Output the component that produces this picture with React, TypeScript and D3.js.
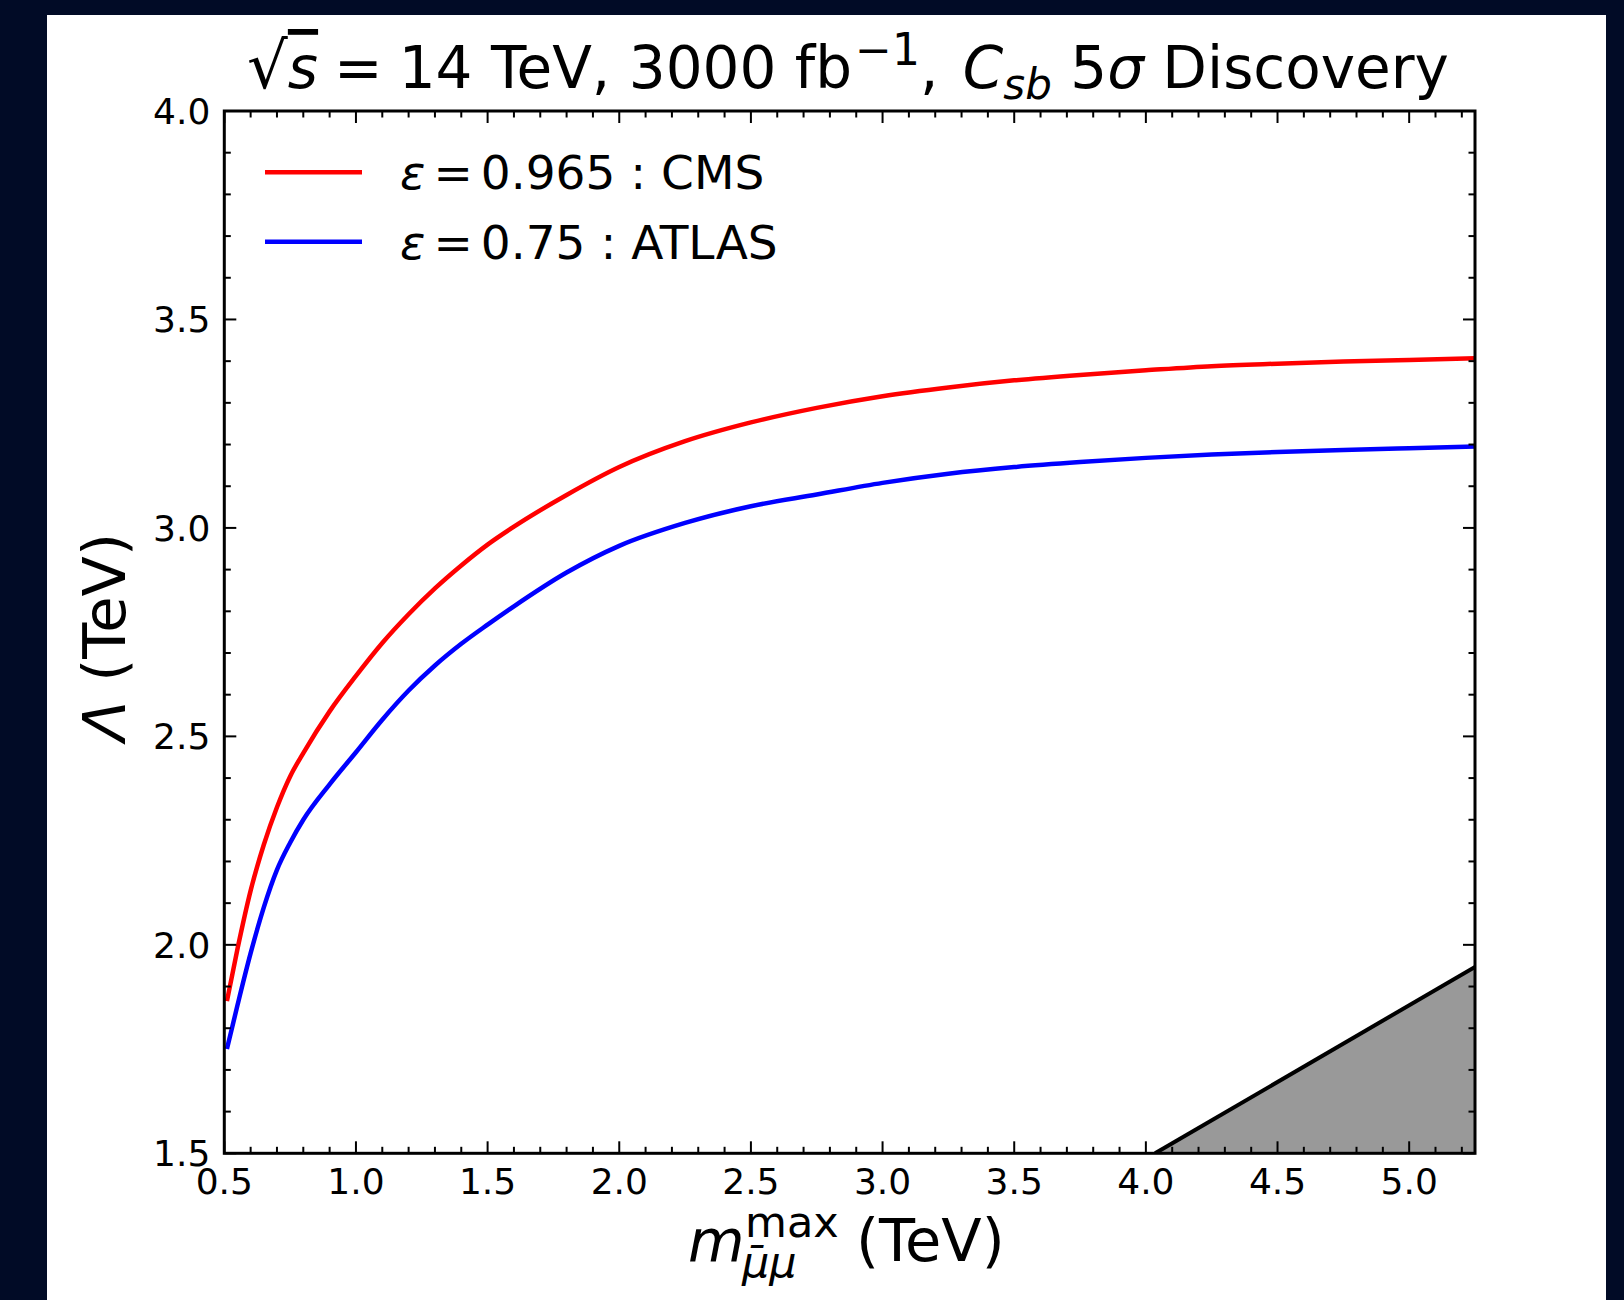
import React from "react";
import * as d3 from "d3";

// ---------- data ----------
const mGrid = [0.51, 0.55, 0.6, 0.65, 0.7, 0.75, 0.8, 0.9, 1.0, 1.1, 1.2, 1.3, 1.4, 1.5, 1.6, 1.8, 2.0, 2.25, 2.5, 2.75, 3.0, 3.25, 3.5, 3.75, 4.0, 4.25, 4.5, 4.75, 5.0, 5.25];
const lambdaCMS = [1.865, 1.99, 2.13, 2.24, 2.33, 2.404, 2.46, 2.56, 2.645, 2.724, 2.793, 2.855, 2.91, 2.96, 3.003, 3.079, 3.146, 3.208, 3.253, 3.288, 3.316, 3.337, 3.354, 3.367, 3.378, 3.388, 3.394, 3.399, 3.403, 3.407];
const lambdaATLAS = [1.75, 1.855, 1.98, 2.09, 2.18, 2.245, 2.3, 2.385, 2.462, 2.54, 2.61, 2.67, 2.722, 2.768, 2.812, 2.893, 2.957, 3.012, 3.052, 3.08, 3.108, 3.13, 3.146, 3.158, 3.168, 3.176, 3.182, 3.187, 3.191, 3.195];
const shadeX = [4.035, 5.25];
const shadeY = [1.5, 1.947];
const xMajorTicks = [0.5, 1.0, 1.5, 2.0, 2.5, 3.0, 3.5, 4.0, 4.5, 5.0];
const yMajorTicks = [1.5, 2.0, 2.5, 3.0, 3.5, 4.0];
const seriesLabels = ["0.965 : CMS", "0.75 : ATLAS"];
const seriesColors = ["#ff0000", "#0000ff"];

const FONT = "DejaVu Sans";

export default function App() {
  const W = 1624, H = 1300;
  const L = 224.3, R = 1475, T = 111, B = 1153.3;
  const x = d3.scaleLinear().domain([0.5, 5.25]).range([L, R]);
  const y = d3.scaleLinear().domain([1.5, 4.0]).range([B, T]);

  const xMinor = d3.range(0.5, 5.25 + 1e-9, 0.1).map((v) => +v.toFixed(2));
  const yMinor = d3.range(1.5, 4.0 + 1e-9, 0.1).map((v) => +v.toFixed(2));
  const isMajor = (v: number, arr: number[]) => arr.some((a) => Math.abs(a - v) < 1e-6);

  const smooth = d3
    .line<[number, number]>()
    .x((d) => x(d[0]))
    .y((d) => y(d[1]))
    .curve(d3.curveMonotoneX);
  const straight = d3
    .line<[number, number]>()
    .x((d) => x(d[0]))
    .y((d) => y(d[1]));

  const series = [lambdaCMS, lambdaATLAS].map((vals) =>
    smooth(mGrid.map((m, i) => [m, vals[i]] as [number, number]))
  );

  const shadePoly = [
    [shadeX[0], shadeY[0]],
    [shadeX[1], shadeY[1]],
    [shadeX[1], shadeY[0]],
  ] as [number, number][];
  const area = straight(shadePoly) + "Z";
  const edge = straight(shadeX.map((v, i) => [v, shadeY[i]] as [number, number]));

  const majLen = 12, minLen = 6.5;
  const tickFs = 36;

  return (
    <svg
      width={W}
      height={H}
      style={{ position: "absolute", left: 0, top: 0, display: "block" }}
      fontFamily={FONT}
    >
      <rect x={0} y={0} width={W} height={H} fill="#010b26" />
      <rect x={47} y={15} width={1559} height={1285} fill="#ffffff" />

      <defs>
        <clipPath id="plotclip">
          <rect x={L} y={T} width={R - L} height={B - T} />
        </clipPath>
      </defs>

      <g clipPath="url(#plotclip)">
        <path d={area} fill="#999999" stroke="none" />
        <path d={edge!} fill="none" stroke="#000" strokeWidth={4} />
        {series.map((d, i) => (
          <path key={i} d={d!} fill="none" stroke={seriesColors[i]} strokeWidth={4.5} strokeLinejoin="round" />
        ))}
      </g>

      {/* ticks */}
      <g stroke="#000" strokeWidth={2}>
        {xMinor.map((v) => {
          const len = isMajor(v, xMajorTicks) ? majLen : minLen;
          return (
            <g key={"xt" + v}>
              <line x1={x(v)} x2={x(v)} y1={B} y2={B - len} />
              <line x1={x(v)} x2={x(v)} y1={T} y2={T + len} />
            </g>
          );
        })}
        {yMinor.map((v) => {
          const len = isMajor(v, yMajorTicks) ? majLen : minLen;
          return (
            <g key={"yt" + v}>
              <line x1={L} x2={L + len} y1={y(v)} y2={y(v)} />
              <line x1={R} x2={R - len} y1={y(v)} y2={y(v)} />
            </g>
          );
        })}
      </g>

      <rect x={L} y={T} width={R - L} height={B - T} fill="none" stroke="#000" strokeWidth={3} />

      {/* tick labels */}
      <g fontSize={tickFs} fill="#000">
        {xMajorTicks.map((v) => (
          <text key={"xl" + v} x={x(v)} y={B + 41} textAnchor="middle">
            {v.toFixed(1)}
          </text>
        ))}
        {yMajorTicks.map((v) => (
          <text key={"yl" + v} x={L - 14} y={y(v) + tickFs * 0.36} textAnchor="end">
            {v.toFixed(1)}
          </text>
        ))}
      </g>

      {/* title */}
      <text x={848} y={88} fontSize={58} textAnchor="middle" fill="#000">
        <tspan fontSize={64}>√</tspan>
        <tspan fontStyle="italic" textDecoration="overline">s</tspan>
        <tspan dx={16}>=</tspan>
        <tspan dx={16}>14 TeV, 3000 fb</tspan>
        <tspan dx={3} dy={-23} fontSize={44}>−1</tspan>
        <tspan dy={23}>, </tspan>
        <tspan dx={6} fontStyle="italic">C</tspan>
        <tspan dy={11} fontSize={42} fontStyle="italic">sb</tspan>
        <tspan dy={-11}> 5</tspan>
        <tspan fontStyle="italic">σ</tspan>
        <tspan> Discovery</tspan>
      </text>

      {/* y label */}
      <text
        transform={`translate(${125},${637}) rotate(-90)`}
        textAnchor="middle"
        fontSize={59}
        fill="#000"
      >
        <tspan fontStyle="italic">Λ</tspan>
        <tspan> (TeV)</tspan>
      </text>

      {/* x label */}
      <g fill="#000">
        <text x={688} y={1261} fontSize={58} fontStyle="italic">m</text>
        <text x={745} y={1237} fontSize={43}>max</text>
        <text x={742} y={1277} fontSize={43} fontStyle="italic">μ̄μ</text>
        <text x={856} y={1261} fontSize={59}>(TeV)</text>
      </g>

      {/* legend */}
      {seriesLabels.map((lab, i) => {
        const ly = 172.3 + i * 69.4;
        return (
          <g key={"lg" + i}>
            <line x1={265} x2={362} y1={ly} y2={ly} stroke={seriesColors[i]} strokeWidth={4.5} />
            <text x={400} y={ly + 17} fontSize={47} fill="#000">
              <tspan fontStyle="italic">ε</tspan>
              <tspan dx={8}>=</tspan>
              <tspan dx={8}>{lab}</tspan>
            </text>
          </g>
        );
      })}
    </svg>
  );
}
